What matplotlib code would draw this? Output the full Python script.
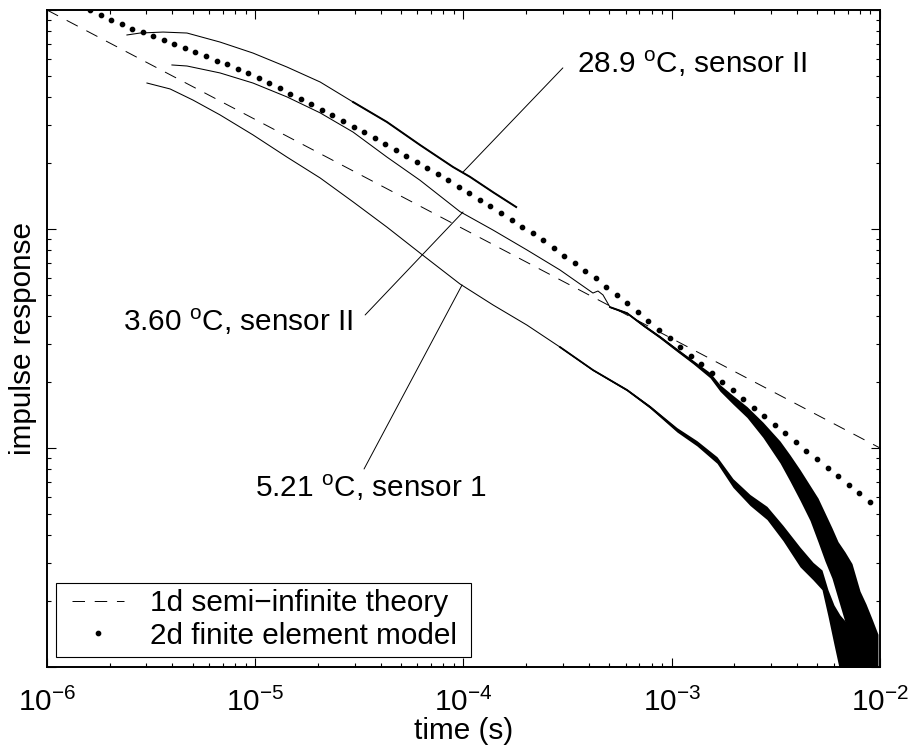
import numpy as np
import matplotlib
matplotlib.use('Agg')
import matplotlib.pyplot as plt
from matplotlib.patches import Rectangle
from matplotlib.ticker import LogLocator, NullFormatter

plt.rcParams['font.family'] = ['Liberation Sans', 'DejaVu Sans']
plt.rcParams['mathtext.fontset'] = 'custom'
plt.rcParams['mathtext.rm'] = 'Liberation Sans'
plt.rcParams['mathtext.it'] = 'Liberation Sans:italic'
plt.rcParams['mathtext.bf'] = 'Liberation Sans:bold'
plt.rcParams['lines.scale_dashes'] = False

# 1d semi-infinite theory (straight line in log-log)
theory_t = [1e-6, 1e-2]
theory_v = [10.0, 0.1]

# 2d finite element model (dotted)
fe_t = [1.61e-6, 1.81e-6, 2.03e-6, 2.28e-6, 2.56e-6, 2.88e-6, 3.24e-6, 3.64e-6,
        4.08e-6, 4.59e-6, 5.16e-6, 5.79e-6, 6.52e-6, 7.31e-6, 8.22e-6, 9.25e-6,
        1.038e-5, 1.167e-5, 1.309e-5, 1.472e-5, 1.656e-5, 1.858e-5, 2.089e-5,
        2.344e-5, 2.636e-5, 2.965e-5, 3.327e-5, 3.741e-5, 4.198e-5, 4.721e-5,
        5.309e-5, 5.957e-5, 6.699e-5, 7.516e-5, 8.453e-5, 9.506e-5,
        1.067e-4, 1.200e-4, 1.346e-4, 1.514e-4, 1.702e-4, 1.910e-4, 2.148e-4,
        2.410e-4, 2.710e-4, 3.048e-4, 3.420e-4, 3.846e-4, 4.315e-4, 4.853e-4,
        5.458e-4, 6.124e-4, 6.887e-4, 7.727e-4, 8.690e-4, 9.772e-4,
        1.096e-3, 1.233e-3, 1.384e-3, 1.556e-3, 1.750e-3, 1.963e-3, 2.208e-3,
        2.477e-3, 2.786e-3, 3.133e-3, 3.516e-3, 3.954e-3, 4.436e-3, 4.989e-3,
        5.610e-3, 6.295e-3, 7.079e-3, 7.943e-3, 8.933e-3]
fe_v = [10.0, 9.49, 9.00, 8.60, 8.22, 7.93, 7.61, 7.30, 7.03, 6.71, 6.43, 6.14,
        5.87, 5.64, 5.38, 5.15, 4.90, 4.66, 4.39, 4.14, 3.92, 3.71, 3.50, 3.31,
        3.11, 2.93, 2.77, 2.60, 2.44, 2.29, 2.15, 2.02, 1.90, 1.78, 1.67, 1.56,
        1.46, 1.36, 1.27, 1.18, 1.10, 1.02, 0.955, 0.890, 0.822, 0.756, 0.700,
        0.645, 0.595, 0.545, 0.500, 0.457, 0.418, 0.381, 0.347, 0.317, 0.289,
        0.264, 0.241, 0.220, 0.201, 0.184, 0.168, 0.153, 0.140, 0.128, 0.117,
        0.107, 0.0972, 0.0888, 0.0810, 0.0742, 0.0678, 0.0620, 0.0567]

# 28.9 C, sensor II
s289_t = [2.42e-6, 2.80e-6, 3.61e-6, 4.70e-6, 6.77e-6, 9.75e-6, 1.42e-5, 2.05e-5,
          2.95e-5, 4.29e-5, 6.18e-5, 8.90e-5, 1.075e-4, 1.39e-4, 1.79e-4]
s289_v = [7.69, 7.85, 7.93, 7.85, 7.14, 6.36, 5.49, 4.69, 3.80, 3.08, 2.42,
          1.92, 1.73, 1.47, 1.26]

# 3.60 C, sensor II  (noise = half height of the scatter band, in decades)
s360_t = [3.98e-6, 4.70e-6, 6.77e-6, 9.75e-6, 1.42e-5, 2.05e-5, 2.95e-5, 4.29e-5,
          6.18e-5, 9.62e-5, 1.386e-4, 2.018e-4, 2.906e-4, 4.184e-4, 4.423e-4,
          4.675e-4, 5.051e-4, 6.098e-4, 7.276e-4, 8.782e-4, 1.060e-3, 1.265e-3,
          1.527e-3, 1.705e-3, 1.968e-3, 2.297e-3, 2.742e-3, 3.310e-3, 3.697e-3,
          4.129e-3, 4.613e-3, 5.04e-3, 5.444e-3, 5.883e-3, 6.286e-3, 6.79e-3,
          7.337e-3, 8.017e-3, 8.564e-3, 9.155e-3, 9.78e-3]
s360_v = [5.61, 5.55, 5.16, 4.64, 4.01, 3.39, 2.77, 2.13, 1.67, 1.20, 0.989,
          0.802, 0.650, 0.510, 0.521, 0.500, 0.440, 0.413, 0.364, 0.321, 0.280,
          0.247, 0.215, 0.188, 0.166, 0.146, 0.121, 0.0959, 0.0810, 0.0678,
          0.0561, 0.0469, 0.0392, 0.0331, 0.0277, 0.0232, 0.0196, 0.0137,
          0.0117, 0.0100, 0.0085]
s360_noise = [0, 0, 0, 0, 0, 0, 0, 0, 0, 0, 0, 0, 0, 0, 0, 0, 0.003, 0.004,
              0.005, 0.006, 0.007, 0.008, 0.012, 0.015, 0.02, 0.025, 0.035,
              0.05, 0.06, 0.07, 0.08, 0.10, 0.11, 0.115, 0.13, 0.16, 0.18,
              0.21, 0.22, 0.22, 0.22]

# 5.21 C, sensor 1
s521_t = [3.02e-6, 3.90e-6, 5.02e-6, 6.77e-6, 9.75e-6, 1.42e-5, 2.05e-5, 2.95e-5,
          4.29e-5, 6.18e-5, 9.62e-5, 1.386e-4, 2.018e-4, 2.906e-4, 4.184e-4,
          6.098e-4, 7.862e-4, 1.060e-3, 1.322e-3, 1.650e-3, 1.968e-3, 2.375e-3,
          2.866e-3, 3.420e-3, 4.129e-3, 4.769e-3, 5.266e-3, 5.627e-3, 6.012e-3,
          6.425e-3, 7.018e-3, 7.67e-3, 8.4e-3]
s521_v = [4.64, 4.36, 3.88, 3.32, 2.69, 2.13, 1.71, 1.33, 1.02, 0.777, 0.561,
          0.450, 0.364, 0.289, 0.227, 0.184, 0.154, 0.121, 0.105, 0.0881,
          0.0692, 0.0579, 0.0505, 0.0409, 0.0318, 0.0274, 0.0250, 0.0196,
          0.0156, 0.0128, 0.0106, 0.0090, 0.0075]
s521_noise = [0, 0, 0, 0, 0, 0, 0, 0, 0, 0, 0, 0, 0, 0.002, 0.003,
              0.004, 0.006, 0.01, 0.012, 0.015, 0.02, 0.025, 0.03, 0.035, 0.045,
              0.04, 0.045, 0.06, 0.09, 0.13, 0.17, 0.19, 0.19]

FS = 21.4

fig = plt.figure(figsize=(9.12, 7.51), dpi=100)
ax = fig.add_axes([47 / 912, 84 / 751, 833 / 912, 657 / 751])
ax.set_xscale('log')
ax.set_yscale('log')

ax.plot(theory_t, theory_v, color='k', lw=0.7, dashes=(9, 7),
        label='1d semi\u2212infinite theory')
ax.plot(fe_t, fe_v, ls='none', marker='o', ms=3.1, color='k',
        label='2d finite element model')

# measured curves
ax.plot(s289_t, s289_v, color='k', lw=0.75)
ax.plot(s289_t[8:], s289_v[8:], color='k', lw=1.4)

for tt, vv, nn in [(s360_t, s360_v, s360_noise), (s521_t, s521_v, s521_noise)]:
    tt = np.array(tt)
    vv = np.array(vv)
    nn = np.array(nn)
    ax.plot(tt, vv, color='k', lw=0.75)
    noisy = nn > 0
    ax.plot(tt[noisy], vv[noisy], color='k', lw=1.3)
    ax.fill_between(tt[noisy], vv[noisy] / 10 ** nn[noisy],
                    vv[noisy] * 10 ** nn[noisy], color='k', lw=0)

# labels with leader lines
notes = [
    (r'28.9 $^{\mathrm{o}}$C, sensor II', (3.51e-4, 5.16), (3.00e-4, 5.44), (9.95e-5, 1.82)),
    (r'3.60 $^{\mathrm{o}}$C, sensor II', (2.32e-6, 0.342), (3.37e-5, 0.405), (9.95e-5, 1.196)),
    (r'5.21 $^{\mathrm{o}}$C, sensor 1', (9.97e-6, 0.0597), (3.33e-5, 0.0802), (9.84e-5, 0.555)),
]
for txt, pos, start, end in notes:
    ax.text(pos[0], pos[1], txt, fontsize=FS, ha='left', va='baseline')
    ax.annotate('', xy=end, xytext=start,
                arrowprops=dict(arrowstyle='-', lw=0.7, color='k',
                                shrinkA=0, shrinkB=0))

ax.set_xlim(1e-6, 1e-2)
ax.set_ylim(1e-2, 10)
ax.xaxis.set_major_locator(LogLocator(base=10, numticks=10))
ax.xaxis.set_minor_locator(LogLocator(base=10, subs=np.arange(2, 10), numticks=20))
ax.yaxis.set_major_locator(LogLocator(base=10, numticks=10))
ax.yaxis.set_minor_locator(LogLocator(base=10, subs=np.arange(2, 10), numticks=20))
ax.xaxis.set_minor_formatter(NullFormatter())
ax.yaxis.set_major_formatter(NullFormatter())
ax.yaxis.set_minor_formatter(NullFormatter())
ax.tick_params(which='both', direction='in', top=True, right=True, width=0.8,
               labelsize=FS, pad=15)
ax.tick_params(which='major', length=6.5)
ax.tick_params(which='minor', length=3.2)
for s in ax.spines.values():
    s.set_linewidth(1.4)

ax.set_xlabel('time (s)', fontsize=FS, labelpad=0)
ax.set_ylabel('impulse response', fontsize=FS)
ax.yaxis.set_label_coords(-0.012, 0.5)

# legend: frame drawn as its own box, entries placed inside it
ax.add_patch(Rectangle((0.0108, 0.0152), 0.498, 0.1126, transform=ax.transAxes,
                       facecolor='white', edgecolor='k', lw=0.8, zorder=4))
leg = ax.legend(loc='lower left', bbox_to_anchor=(0.0216, 0.015), borderaxespad=0,
                fontsize=FS, frameon=False, handlelength=1.75,
                handletextpad=0.85, borderpad=0.25, labelspacing=0.15,
                numpoints=1)
leg.set_zorder(5)

fig.savefig('out.png', dpi=100)
